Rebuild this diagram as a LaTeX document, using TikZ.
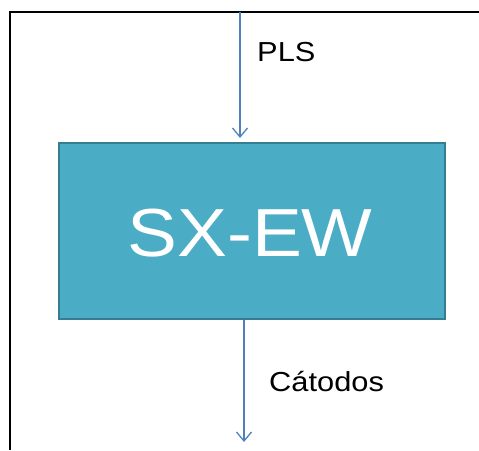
\documentclass[tikz,border=0pt]{standalone}
\usepackage{fontspec}
\setmainfont{Liberation Sans}
\usetikzlibrary{arrows.meta, positioning}

\definecolor{boxfill}{HTML}{4BACC6}
\definecolor{boxline}{HTML}{357D91}
\definecolor{flowblue}{HTML}{4F81BD}

\begin{document}
\begin{tikzpicture}[
    x=1pt, y=1pt,
    unit/.style={draw=boxline, fill=boxfill, line width=2pt, minimum width=386pt, minimum height=176pt, inner sep=0pt},
    flow/.style={draw=flowblue, line width=1.3pt, -{Straight Barb[length=9pt, width=15pt, line width=1.3pt]}},
    flowlabel/.style={inner sep=0pt, font=\fontsize{27.5}{30}\selectfont, xscale=1.12, transform shape}
]
    \useasboundingbox (0,0) rectangle (479,450);
    % frame edges
    \draw[line width=2pt] (10,0) -- (10,438) -- (479,438);

    \node[unit] (sxew) at (252,219) {};
    \node[inner sep=0pt, text=white, font=\fontsize{68}{72}\selectfont, xscale=1.1, transform shape, anchor=base] (sxew_txt) at (250,193) {SX-EW};

    \coordinate (pls_in) at (240,438);
    \coordinate (cat_out) at (244,8);

    \draw[flow, shorten >=4pt] (pls_in) -- (pls_in |- sxew.north);
    \draw[flow] (cat_out |- sxew.south) -- (cat_out);

    \node[flowlabel, anchor=base west] (pls_lbl) at (257,388) {PLS};
    \node[flowlabel, anchor=base west] (cat_lbl) at (269,59) {Cátodos};
\end{tikzpicture}
\end{document}
